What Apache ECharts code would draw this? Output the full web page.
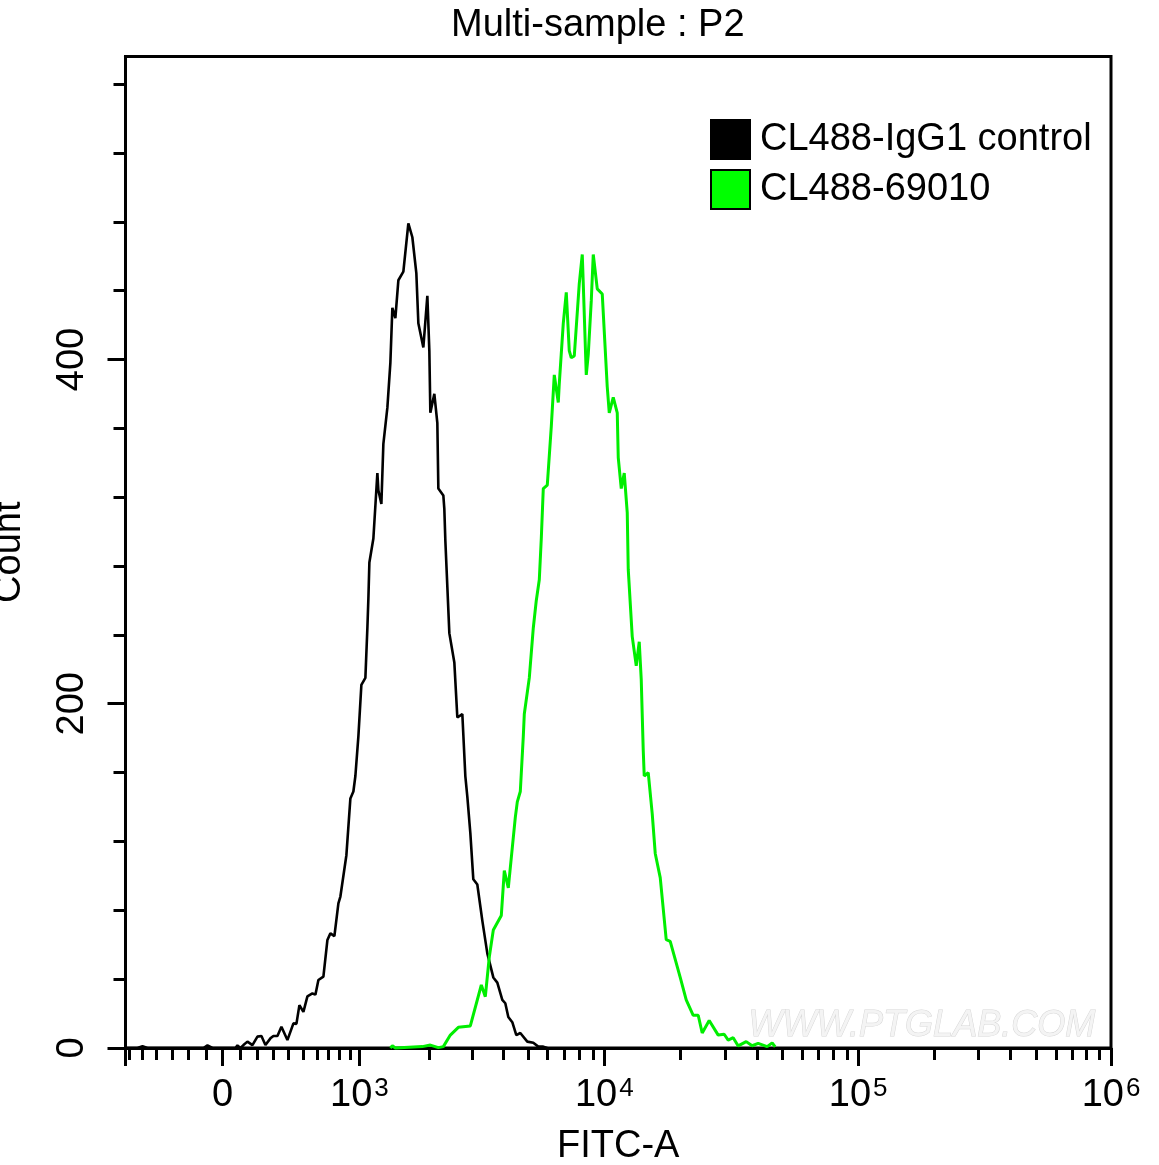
<!DOCTYPE html>
<html>
	<head>
		<meta charset="utf-8">
		<title>Multi-sample : P2</title>
		<style type="text/css">
			html,body{
				margin: 0;
				background: #fff;
			}
			#main{
				width: 1159px;
				height: 1165px;
			}
		</style>
	</head>
	<body>
		<div id="main"></div>
	</body>
<script src="https://cdn.jsdelivr.net/npm/echarts@6/dist/echarts.min.js" type="text/javascript" charset="utf-8"></script>

<script type="text/javascript">
	//x is the display channel of the biexponential FITC-A axis, y is the count
	var controlX=[0,12,17,22,78,82,87,110,112,115,118,122,127,129,132,136,140,145,148,152,156,162,164,168,171,174,178,182,187,190,193,198,202,205,209,213,215,221,225,228,230,233,236,240,242,243,244,248,250,252,253,256,258,262,265,267,270,273,278,283,287,291,293,298,302,304,305,309,312,313,318,319,320,322,324,329,332,337,340,342,345,348,352,357,362,368,372,377,380,383,387,391,395,402,408,413,418,422]
	var controlY=[0,0,1,0,0,1.5,0,0,1.5,0,1.7,3.7,1.7,0.8,6.6,7,1.7,5.6,7,7,12.4,4.6,4.6,14.3,14,24.9,21,30,31.7,31,39.5,41.5,62.7,66.6,65,84,88,112,145,149,158,181,211,215,244,261,282,296,315,334,324,316,351,372,398,430,424,446,451,479,471,450,421,407,437,405,369,380,363,325,321,313,295,268,241,224,192,194,158,146,125,98,95,74,55,41,38,28,26,18,15,7.5,8.7,3.7,3,0.8,0.8,0]
	var sampleX=[265,267,270,297,305,313,318,325,333,345,356,360,364,368,376,379,383,390,392,395,398,399,404,408,411,414,416,418,422,426,429,433,434,438,441,444,446,449,454,457,458,461,463,466,468,472,477,482,484,488,492,493,496,499,502,503,507,511,514,516,518,519,523,527,530,535,541,545,555,561,568,573,577,584,593,599,603,608,613,621,627,633,642,647,650]
	var sampleY=[0,1.3,0,0.8,1.7,0.2,0.8,7.5,12,12.8,36.6,29.8,53,68.5,77,103,93,134,143,149,181,194,215,244,260,272,296,325,327,361,391,375,386,421,439,405,401,402,444,461,444,391,403,434,461,441,438,384,369,378,369,343,325,334,311,278,239,222,236,214,173,158,160,136,113,99,63,62,41,28,19,19,8.7,16,7.5,8,4.6,6,1.2,3.7,1.3,2.7,0.8,3,0.6]

	var xMajorTicks=[0,97,234,479,733,986]
	var xMajorLabels=['','0','10^3','10^4','10^5','10^6']
	var xMinorTicks=[4,17,31,47,63,81,115,132,148,163,178,192,203,214,225,304,347,378,403,422,439,454,468,555,600,632,657,677,693,708,722,809,853,885,911,931,947,961,974]
	var yMajorTicks=[0,200,400]
	var yMinorTicks=[40,80,120,160,240,280,320,360,440,480,520,560]
	var seriesNames=['CL488-IgG1 control','CL488-69010']

	function pairs(xs,ys){
		var out=[]
		for (var i=0;i<xs.length;i++){
			out[i]=[xs[i],ys[i]]
		}
		return out
	}

	function xLabel(value){
		var i=xMajorTicks.indexOf(value)
		var parts=xMajorLabels[i].split('^')
		if (parts.length==2){
			return '{b|'+parts[0]+'}{s|'+parts[1]+'}'
		}
		return '{b|'+parts[0]+'}'
	}

	var font='"Liberation Sans", Arial, sans-serif'
	var myChart = echarts.init(document.getElementById('main'));

	var option = {
		animation: false,
		backgroundColor: '#fff',
		title: {
			text: 'Multi-sample : P2',
			left: 446,
			top: 2,
			textStyle: {color:'#000',fontFamily:font,fontSize:38,fontWeight:'normal'}
		},
		legend: {
			left: 705,
			top: 114,
			orient: 'vertical',
			itemWidth: 39,
			itemHeight: 39,
			itemGap: 9,
			icon: 'rect',
			itemStyle: {borderColor:'#000',borderWidth:2},
			textStyle: {color:'#000',fontFamily:font,fontSize:38,padding:[0,0,0,5]},
			data: seriesNames
		},
		grid: {
			left: 125.5,
			top: 56.5,
			right: 48,
			bottom: 117,
			outerBoundsMode: 'none',
			show: true,
			borderColor: '#000',
			borderWidth: 3
		},
		xAxis: [
			{
				type: 'value',
				min: 0,
				max: 986,
				name: 'FITC-A',
				nameLocation: 'middle',
				nameGap: 80,
				nameTextStyle: {color:'#000',fontFamily:font,fontSize:38},
				splitLine: {show:false},
				axisLine: {show:true,onZero:false,lineStyle:{color:'#000',width:3}},
				axisTick: {show:true,customValues:xMajorTicks,length:18,lineStyle:{color:'#000',width:3}},
				axisLabel: {
					customValues: xMajorTicks,
					margin: 28,
					formatter: xLabel,
					rich: {
						b: {color:'#000',fontFamily:font,fontSize:38,height:40,verticalAlign:'bottom'},
						s: {color:'#000',fontFamily:font,fontSize:26,padding:[0,0,14,2],verticalAlign:'top'}
					}
				}
			},
			{
				type: 'value',
				min: 0,
				max: 986,
				position: 'bottom',
				splitLine: {show:false},
				axisLine: {show:false},
				axisTick: {show:true,customValues:xMinorTicks,length:12,lineStyle:{color:'#000',width:3}},
				axisLabel: {show:false}
			}
		],
		yAxis: [
			{
				type: 'value',
				min: 0,
				max: 576,
				name: 'Count',
				nameLocation: 'middle',
				nameGap: 97,
				nameTextStyle: {color:'#000',fontFamily:font,fontSize:38},
				splitLine: {show:false},
				axisLine: {show:true,lineStyle:{color:'#000',width:3}},
				axisTick: {show:true,customValues:yMajorTicks,length:18,lineStyle:{color:'#000',width:3}},
				axisLabel: {
					customValues: yMajorTicks,
					rotate: 90,
					margin: 34,
					color: '#000',
					fontFamily: font,
					fontSize: 38
				}
			},
			{
				type: 'value',
				min: 0,
				max: 576,
				position: 'left',
				splitLine: {show:false},
				axisLine: {show:false},
				axisTick: {show:true,customValues:yMinorTicks,length:12,lineStyle:{color:'#000',width:3}},
				axisLabel: {show:false}
			}
		],
		graphic: [
			{
				type: 'text',
				left: 748,
				top: 1007,
				z: 0,
				style: {
					text: 'WWW.PTGLAB.COM',
					fill: '#f4f4f4',
					stroke: '#d6d6d6',
					lineWidth: 1,
					font: 'italic 36px "Liberation Sans", Arial, sans-serif'
				}
			}
		],
		series: [
			{
				name: seriesNames[0],
				type: 'line',
				data: pairs(controlX,controlY),
				showSymbol: false,
				clip: false,
				z: 3,
				itemStyle: {color:'#000'},
				lineStyle: {color:'#000',width:2.6}
			},
			{
				name: seriesNames[1],
				type: 'line',
				data: pairs(sampleX,sampleY),
				showSymbol: false,
				clip: false,
				z: 4,
				itemStyle: {color:'#00ff00'},
				lineStyle: {color:'#00ee00',width:3}
			}
		]
	};

	option && myChart.setOption(option);
</script>
</html>
